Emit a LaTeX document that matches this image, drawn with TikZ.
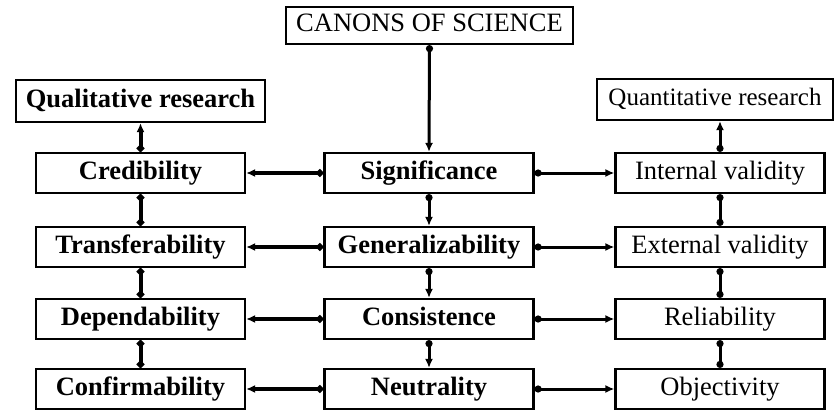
\documentclass[tikz,border=0pt]{standalone}
\usepackage{fontspec}
\setmainfont{Liberation Serif}
\usetikzlibrary{arrows.meta}
\begin{document}
\begin{tikzpicture}[x=1pt,y=-1pt,
  box/.style={draw=black,line width=2.2pt,minimum height=40pt,inner sep=0pt,
    text height=17pt,text depth=5pt,font=\fontsize{26.5}{29}\selectfont},
  colbox/.style={box,minimum width=209pt},
  bb/.style={font=\fontsize{26.5}{29}\selectfont\bfseries},
  link/.style={line width=3pt,{Circle[length=7pt]}-{Latex[length=9pt,width=8pt]}},
  thick link/.style={link,line width=4pt},
  pair/.style={line width=3pt,{Circle[length=7pt]}-{Circle[length=7pt]}},
  thick pair/.style={pair,line width=4pt}]
\useasboundingbox (0,0) rectangle (834,410);

% title and the two research headings
\node[box,minimum width=287pt,minimum height=37pt] (canons) at (429.5,25.5) {CANONS OF SCIENCE};
\node[box,bb,minimum width=249pt,minimum height=42pt] (qual) at (140.5,101) {Qualitative research};
\node[box,minimum width=236pt,minimum height=41pt,font=\fontsize{25}{28}\selectfont] (quant) at (715,99.5) {Quantitative research};

% qualitative criteria
\node[colbox,bb] (cred)  at (140.5,173) {Credibility};
\node[colbox,bb] (trans) at (140.5,247) {Transferability};
\node[colbox,bb] (dep)   at (140.5,319) {Dependability};
\node[colbox,bb] (conf)  at (140.5,389) {Confirmability};

% general canons
\node[colbox,bb] (sig)  at (429,173) {Significance};
\node[colbox,bb] (gen)  at (429,247) {Generalizability};
\node[colbox,bb] (cons) at (429,319) {Consistence};
\node[colbox,bb] (neut) at (429,389) {Neutrality};

% quantitative criteria
\node[colbox] (intv) at (720,173) {Internal validity};
\node[colbox] (extv) at (720,247) {External validity};
\node[colbox] (rel)  at (720,319) {Reliability};
\node[colbox] (obj)  at (720,389) {Objectivity};

% central column
\draw[link] (canons.south) -- (sig.north);
\draw[link] (sig.south) -- (gen.north);
\draw[link] (gen.south) -- (cons.north);
\draw[link] (cons.south) -- (neut.north);

% qualitative column
\draw[thick link] (cred.north) -- (cred.north |- qual.south);
\draw[thick pair] (cred.south) -- (trans.north);
\draw[thick pair] (trans.south) -- (dep.north);
\draw[thick pair] (dep.south) -- (conf.north);

% quantitative column
\draw[link] (intv.north) -- (intv.north |- quant.south);
\draw[pair] (intv.south) -- (extv.north);
\draw[pair] (extv.south) -- (rel.north);
\draw[pair] (rel.south) -- (obj.north);

% rows towards the qualitative side
\draw[thick link] (sig.west) -- (cred.east);
\draw[thick link] (gen.west) -- (trans.east);
\draw[thick link] (cons.west) -- (dep.east);
\draw[thick link] (neut.west) -- (conf.east);

% rows towards the quantitative side
\draw[link] (sig.east) -- (intv.west);
\draw[link] (gen.east) -- (extv.west);
\draw[link] (cons.east) -- (rel.west);
\draw[link] (neut.east) -- (obj.west);
\end{tikzpicture}
\end{document}
